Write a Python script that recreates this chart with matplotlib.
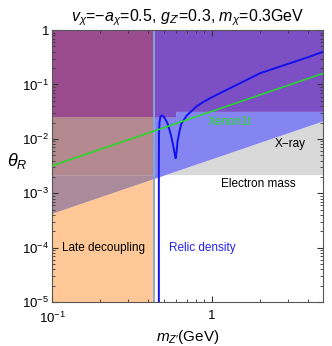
import numpy as np
import matplotlib
matplotlib.use('Agg')
import matplotlib.pyplot as plt
from matplotlib.ticker import LogLocator, NullFormatter, FixedLocator, FixedFormatter

plt.rcParams['font.family'] = ['Liberation Sans', 'DejaVu Sans']
plt.rcParams['mathtext.fontset'] = 'custom'
plt.rcParams['mathtext.rm'] = 'Liberation Sans'
plt.rcParams['mathtext.it'] = 'Liberation Sans:italic'

# relic density curve (m_Z' in GeV, theta_R)
m_relic = [0.467, 0.467, 0.468, 0.471, 0.478, 0.49, 0.505, 0.53, 0.555, 0.575,
           0.588, 0.595, 0.602, 0.612, 0.63, 0.646, 0.7, 0.8, 0.88, 1.0,
           1.235, 1.6, 2.0, 2.7, 3.55, 4.3, 5.0]
theta_relic = [1e-5, 3e-3, 0.012, 0.02, 0.026, 0.027, 0.025, 0.019, 0.012, 0.0075,
               0.0052, 0.0044, 0.0055, 0.009, 0.014, 0.019, 0.027, 0.039, 0.047, 0.058,
               0.079, 0.115, 0.16, 0.215, 0.28, 0.34, 0.40]

# constraint boundaries
m_late = 0.436            # late decoupling: m_Z' below this
theta_emass = 2.2e-3      # electron mass bound
xray_coef = 4.3e-3        # X-ray: theta > coef * m
xenon_coef = 0.032        # Xenon1t: theta = coef * m
top_m = [0.1, 0.595, 0.595, 5.0]
top_theta = [0.025, 0.025, 0.032, 0.032]

xmin, xmax = 0.1, 5.0
ymin, ymax = 1e-5, 1.0

fig = plt.figure(figsize=(3.32, 3.46), dpi=100)
ax = fig.add_axes([0.157, 0.127, 0.816, 0.786])
ax.set_xscale('log')
ax.set_yscale('log')

m_left = np.array([xmin, m_late])

# left part (late decoupling)
ax.fill_between(m_left, ymin, xray_coef * m_left, color='#ffc896', lw=0, zorder=1)
ax.fill_between(m_left, xray_coef * m_left, theta_emass, color='#ab8a9c', lw=0, zorder=1)
ax.fill_between(m_left, theta_emass, top_theta[0], color='#b3898f', lw=0, zorder=1)
ax.fill_between(m_left, top_theta[0], ymax, color='#9b4c8f', lw=0, zorder=1)

# right part
mm = np.geomspace(m_late, xmax, 200)
ax.fill_between(mm, theta_emass, np.maximum(xray_coef * mm, theta_emass),
                color='#d9d9d9', lw=0, zorder=1)
top_r = np.where(mm < top_m[1], top_theta[0], top_theta[2])
ax.fill_between(mm, xray_coef * mm, top_r, color='#8585f2', lw=0, zorder=1)
ax.fill_between(mm, top_r, ymax, color='#7d4fc4', lw=0, zorder=1)

ax.axvline(m_late, color='#7fa6dc', lw=1.3, zorder=2)
ax.plot(m_relic, theta_relic, color='#1010f0', lw=1.4, zorder=3)
ax.plot([xmin, xmax], [xenon_coef * xmin, xenon_coef * xmax], color='#22dd22', lw=1.1, zorder=3)

ax.text(0.115, 1.0e-4, 'Late decoupling', fontsize=8.5, va='center', ha='left')
ax.text(0.54, 1.0e-4, 'Relic density', fontsize=8.5, va='center', ha='left', color='#2222ee')
ax.text(1.14, 1.48e-3, 'Electron mass', fontsize=8.5, va='center', ha='left')
ax.text(2.5, 8.0e-3, 'X\u2212ray', fontsize=8.5, va='center', ha='left')
ax.text(0.94, 2.04e-2, 'Xenon1t', fontsize=8.5, va='center', ha='left', color='#22dd22')

ax.set_xlim(xmin, xmax)
ax.set_ylim(ymin, ymax)

ax.xaxis.set_major_locator(FixedLocator([0.1, 1]))
ax.xaxis.set_major_formatter(FixedFormatter([r'$10^{-1}$', '1']))
ax.xaxis.set_minor_locator(LogLocator(base=10, subs=np.arange(2, 10)))
ax.xaxis.set_minor_formatter(NullFormatter())
yt = [1e-5, 1e-4, 1e-3, 1e-2, 1e-1, 1]
ax.yaxis.set_major_locator(FixedLocator(yt))
ax.yaxis.set_major_formatter(FixedFormatter([r'$10^{-5}$', r'$10^{-4}$', r'$10^{-3}$',
                                             r'$10^{-2}$', r'$10^{-1}$', '1']))
ax.yaxis.set_minor_locator(LogLocator(base=10, subs=np.arange(2, 10)))
ax.yaxis.set_minor_formatter(NullFormatter())
ax.tick_params(which='both', direction='in', top=True, right=True, labelsize=9.5,
               color='#333333', pad=2)
ax.tick_params(axis='x', pad=6)
ax.tick_params(which='major', length=4)
ax.tick_params(which='minor', length=2)
for s in ax.spines.values():
    s.set_color('#555555')
    s.set_linewidth(0.8)

ax.set_xlabel("$m_{Z\u2032}$(GeV)", fontsize=11, labelpad=2)
ax.set_ylabel(r'$\theta_R$', fontsize=13, rotation=0, labelpad=4, va='center')
ax.yaxis.set_label_coords(-0.13, 0.52)
ax.set_title("$v_\\chi$=$-a_\\chi$=0.5, $g_{Z\u2032}$=0.3, $m_\\chi$=0.3GeV", fontsize=11.5, pad=6)

fig.savefig('out.png', dpi=100)
